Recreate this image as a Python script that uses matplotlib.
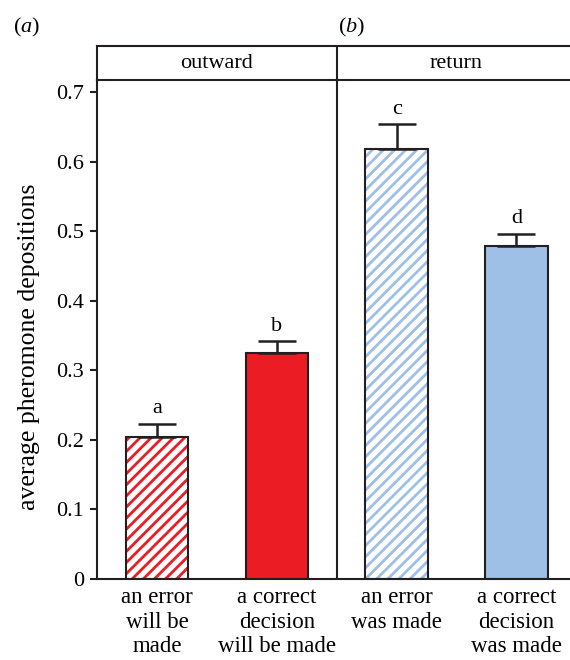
import matplotlib
matplotlib.use("Agg")
import matplotlib.pyplot as plt

plt.rcParams['font.family'] = ['Liberation Serif', 'DejaVu Serif']
plt.rcParams['mathtext.fontset'] = 'custom'
plt.rcParams['mathtext.rm'] = 'Liberation Serif'
plt.rcParams['mathtext.it'] = 'Liberation Serif:italic'
plt.rcParams['hatch.linewidth'] = 2.0

# data
categories = ["an error\nwill be\nmade", "a correct\ndecision\nwill be made",
              "an error\nwas made", "a correct\ndecision\nwas made"]
means = [0.204, 0.325, 0.618, 0.478]
errors = [0.019, 0.017, 0.036, 0.018]
letters = ["a", "b", "c", "d"]
panels = ["outward", "return"]
yticks = [0, 0.1, 0.2, 0.3, 0.4, 0.5, 0.6, 0.7]

red = '#ec1c24'
blue = '#9ebfe6'
ink = '#231f20'

left = 96.5 / 570
fig = plt.figure(figsize=(5.7, 6.6), dpi=100)
ax = fig.add_axes([left, 81 / 660, 1 - left, 499 / 660])
strip = fig.add_axes([left, 580 / 660, 1 - left, 34 / 660], sharex=ax)

x = list(range(len(means)))
w = 0.52

# hatched bars: stripes first, then black outline on top
ax.bar(x[0], means[0], w, color='white', edgecolor=red, hatch='///', linewidth=0)
ax.bar(x[2], means[2], w, color='white', edgecolor=blue, hatch='///', linewidth=0)
ax.bar(x[1], means[1], w, color=red, linewidth=0)
ax.bar(x[3], means[3], w, color=blue, linewidth=0)
ax.bar(x, means, w, fill=False, edgecolor=ink, linewidth=1.5)

ax.errorbar(x, means, yerr=[[0] * 4, errors], fmt='none', ecolor=ink,
            elinewidth=1.8, capsize=14, capthick=1.8)

for xi, m, e, l in zip(x, means, errors, letters):
    ax.text(xi, m + e + 0.015, l, ha='center', va='baseline', fontsize=16)

ax.axvline(1.5, color=ink, linewidth=1.5)

ax.set_xlim(-0.505, 3.447)
ax.set_ylim(0, 0.7172)
ax.set_yticks(yticks)
ax.set_yticklabels(['0', '0.1', '0.2', '0.3', '0.4', '0.5', '0.6', '0.7'])
ax.set_xticks(x)
ax.set_xticklabels(categories, fontsize=16.5, linespacing=1.22)
ax.tick_params(axis='x', length=0, pad=6)
ax.tick_params(axis='y', length=5, width=1.5, labelsize=16, color=ink, pad=4)
for s in ['top', 'right']:
    ax.spines[s].set_visible(False)
for s in ['left', 'bottom']:
    ax.spines[s].set_linewidth(1.5)
    ax.spines[s].set_color(ink)
ax.set_ylabel('average pheromone depositions', fontsize=18.5)
ax.yaxis.set_label_coords(-56.5 / 473.5, 0.465)

# facet strip
strip.axvline(1.5, color=ink, linewidth=1.5)
strip.set_ylim(0, 1)
strip.text(0.5, 0.5, panels[0], ha='center', va='center', fontsize=16)
strip.text(2.5, 0.5, panels[1], ha='center', va='center', fontsize=16)
strip.spines['right'].set_visible(False)
for s in ['left', 'top', 'bottom']:
    strip.spines[s].set_linewidth(1.5)
    strip.spines[s].set_color(ink)
strip.tick_params(left=False, bottom=False, labelleft=False, labelbottom=False)

fig.text(13 / 570, 1 - 27 / 660, r'($\mathit{a}$)', fontsize=16, va='center')
fig.text(338 / 570, 1 - 27 / 660, r'($\mathit{b}$)', fontsize=16, va='center')

fig.savefig('out.png', dpi=100)
